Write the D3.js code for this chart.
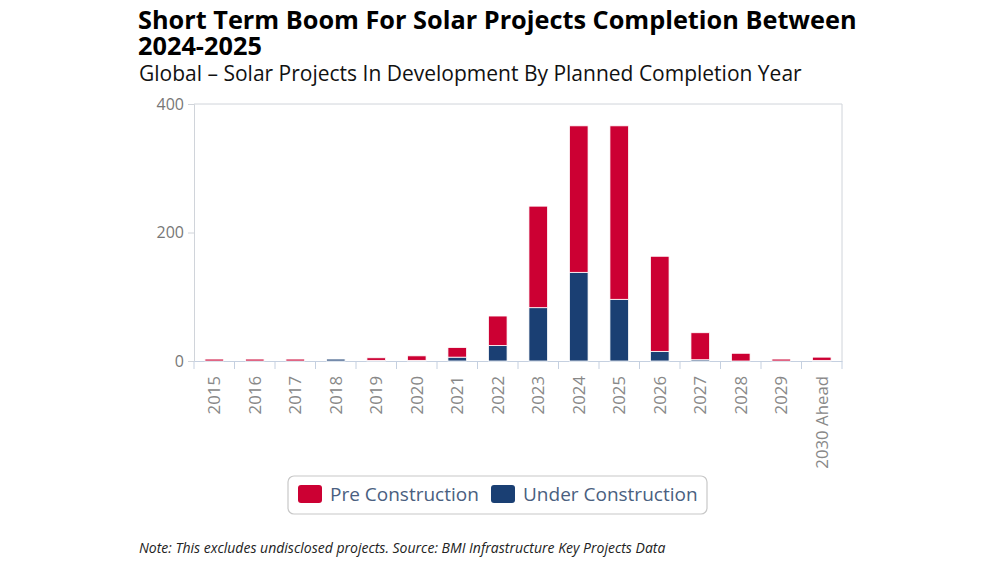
<!DOCTYPE html>
<html>
<head>
<meta charset="utf-8">
<script src="https://cdn.jsdelivr.net/npm/d3@7"></script>
<style>
  body { margin: 0; background: #fff; }
  text { font-family: "Open Sans", sans-serif; }
</style>
</head>
<body>
<div id="canvas"></div>
<script>
"use strict"

let years = ["2015", "2016", "2017", "2018", "2019", "2020", "2021", "2022", "2023",
             "2024", "2025", "2026", "2027", "2028", "2029", "2030 Ahead"];
let preConstruction = [3, 3, 3, 0, 4, 7, 15, 46, 158, 228, 270, 148, 42, 12, 3, 5];
let underConstruction = [0, 0, 0, 3, 1, 1, 6, 24, 83, 138, 96, 15, 2, 0, 0, 1];
let yTicks = [0, 200, 400];
let seriesNames = ["Pre Construction", "Under Construction"];
let seriesColors = ["#cc0033", "#1a3f73"];
let titleLines = ["Short Term Boom For Solar Projects Completion Between", "2024-2025"];

let width = 1000;
let height = 563;
let plot = { left: 194, right: 842, top: 104, bottom: 361 };

let drawing = d3.select("#canvas")
    .append("svg")
    .attr("width", width)
    .attr("height", height);

/* title, wrapped over two lines in one text element */
drawing.append("text")
    .attr("x", 138).attr("y", 29)
    .attr("font-size", 25.3).attr("font-weight", "bold").attr("fill", "#000")
    .selectAll("tspan")
    .data(titleLines)
    .join("tspan")
    .attr("x", 138)
    .attr("dy", (d, i) => i === 0 ? 0 : 26)
    .text(d => d);

drawing.append("text")
    .attr("x", 139).attr("y", 81)
    .attr("font-size", 21).attr("fill", "#111")
    .text("Global \u2013 Solar Projects In Development By Planned Completion Year");

/* scales */
let x = d3.scaleBand()
    .domain(years)
    .range([plot.left, plot.right])
    .paddingInner(0.54)
    .paddingOuter(0.27);

let y = d3.scaleLinear()
    .domain([0, 400])
    .range([plot.bottom, plot.top]);

/* plot frame: top and right edges */
drawing.append("path")
    .attr("d", `M${plot.left},${plot.top}H${plot.right}V${plot.bottom}`)
    .attr("fill", "none")
    .attr("stroke", "#d0d4da");

/* y axis */
let yAxis = drawing.append("g")
    .attr("transform", `translate(${plot.left},0)`)
    .call(d3.axisLeft(y).tickValues(yTicks).tickSize(6).tickPadding(4));
yAxis.select(".domain").attr("stroke", "#d0d4da");
yAxis.selectAll(".tick line").attr("stroke", "#d0d4da");
yAxis.selectAll(".tick text")
    .attr("font-size", 16).attr("fill", "#777")
    .attr("font-family", "'Open Sans', sans-serif");

/* x axis with ticks on band boundaries */
let xAxis = drawing.append("g")
    .attr("transform", `translate(0,${plot.bottom})`)
    .call(d3.axisBottom(x).tickSize(0).tickPadding(0));
xAxis.select(".domain").attr("stroke", "#c5d0e0");
xAxis.selectAll(".tick text")
    .attr("font-size", 16.8).attr("fill", "#888")
    .attr("font-family", "'Open Sans', sans-serif")
    .attr("text-anchor", "end")
    .attr("dy", "0.35em")
    .attr("transform", "translate(0,15) rotate(-90)");

let step = x.step();
let boundaries = d3.range(years.length + 1).map(i => plot.left + i * step);
xAxis.selectAll(".bound")
    .data(boundaries)
    .join("line")
    .attr("class", "bound")
    .attr("x1", d => d).attr("x2", d => d)
    .attr("y1", 0).attr("y2", 8)
    .attr("stroke", "#c5d0e0");

/* stacked bars */
let rows = years.map((yr, i) => ({
    year: yr,
    "Under Construction": underConstruction[i],
    "Pre Construction": preConstruction[i]
}));
let stack = d3.stack().keys(["Under Construction", "Pre Construction"]);
let layers = stack(rows);

drawing.append("g")
    .selectAll("g")
    .data(layers)
    .join("g")
    .attr("fill", d => seriesColors[seriesNames.indexOf(d.key)])
    .selectAll("rect")
    .data(d => d.filter(s => s[1] - s[0] > 0))
    .join("rect")
    .attr("x", d => x(d.data.year))
    .attr("width", x.bandwidth())
    .attr("y", d => y(d[1]))
    .attr("height", d => y(d[0]) - y(d[1]))
    .attr("stroke", "#fff")
    .attr("stroke-width", 0.8);

/* legend */
let legend = drawing.append("g");
legend.append("rect")
    .attr("x", 288).attr("y", 476)
    .attr("width", 419).attr("height", 38)
    .attr("rx", 6)
    .attr("fill", "#fff")
    .attr("stroke", "#c8c8c8")
    .attr("stroke-width", 1.2);

let legendX = [298, 491];
seriesNames.forEach((name, i) => {
    legend.append("rect")
        .attr("x", legendX[i]).attr("y", 485)
        .attr("width", 24).attr("height", 18)
        .attr("rx", 3)
        .attr("fill", seriesColors[i]);
    legend.append("text")
        .attr("x", legendX[i] + 32).attr("y", 501)
        .attr("font-size", 19)
        .attr("fill", "#4a6080")
        .text(name);
});

/* note */
drawing.append("text")
    .attr("x", 139).attr("y", 553)
    .attr("font-size", 14).attr("font-style", "italic").attr("fill", "#222")
    .text("Note: This excludes undisclosed projects. Source: BMI Infrastructure Key Projects Data");
</script>
</body>
</html>
